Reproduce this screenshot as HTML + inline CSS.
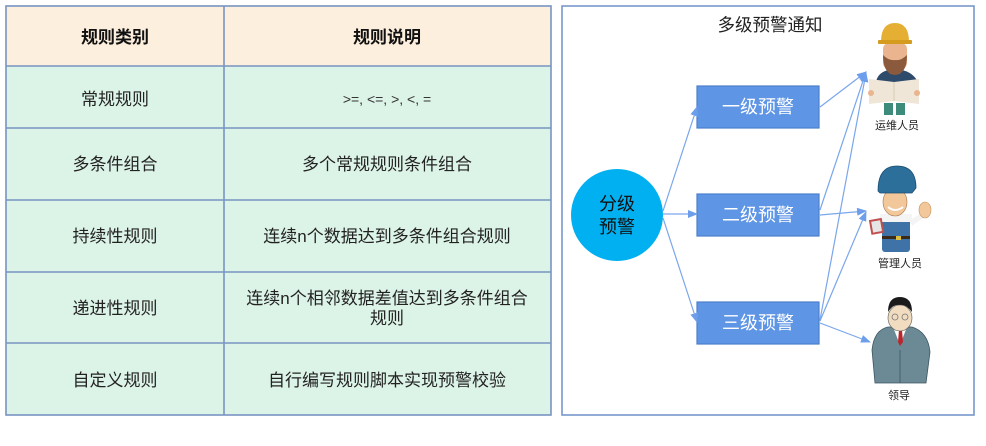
<!DOCTYPE html>
<html><head><meta charset="utf-8"><style>
html,body{margin:0;padding:0;background:#fff;}
svg{display:block;}
text{font-family:"Liberation Sans","Noto Sans CJK SC",sans-serif;}
</style></head><body>
<svg width="986" height="446" viewBox="0 0 986 446" xmlns="http://www.w3.org/2000/svg">
<rect x="0" y="0" width="986" height="446" fill="#fff"/>
<!-- TABLE -->
<rect x="6" y="6" width="545" height="60" fill="#fdefdd"/>
<rect x="6" y="66" width="545" height="349" fill="#dcf3e7"/>
<g stroke="#7894c2" stroke-width="1.6" fill="none">
<rect x="6" y="6" width="545" height="409"/>
<line x1="224" y1="6" x2="224" y2="415"/>
<line x1="6" y1="66" x2="551" y2="66"/>
<line x1="6" y1="128" x2="551" y2="128"/>
<line x1="6" y1="200" x2="551" y2="200"/>
<line x1="6" y1="272" x2="551" y2="272"/>
<line x1="6" y1="343" x2="551" y2="343"/>
</g>
<g font-size="17" text-anchor="middle" fill="#222">
<text x="115" y="43" font-weight="bold" fill="#111">规则类别</text>
<text x="387" y="43" font-weight="bold" fill="#111">规则说明</text>
<text x="115" y="105">常规规则</text>
<text x="387" y="104" font-size="14" fill="#333">&gt;=, &lt;=, &gt;, &lt;, =</text>
<text x="115" y="170">多条件组合</text>
<text x="387" y="170">多个常规规则条件组合</text>
<text x="115" y="242">持续性规则</text>
<text x="387" y="242">连续n个数据达到多条件组合规则</text>
<text x="115" y="314">递进性规则</text>
<text x="387" y="304">连续n个相邻数据差值达到多条件组合</text>
<text x="387" y="324">规则</text>
<text x="115" y="386">自定义规则</text>
<text x="387" y="386">自行编写规则脚本实现预警校验</text>
</g>
<!-- RIGHT PANEL -->
<rect x="562" y="6" width="412" height="409" fill="#fff" stroke="#6f90c8" stroke-width="1.5"/>
<text x="770" y="31" font-size="17.5" text-anchor="middle" fill="#222">多级预警通知</text>
<!-- circle -->
<circle cx="617" cy="215" r="46" fill="#00b0f0"/>
<text x="617" y="210" font-size="18" text-anchor="middle" fill="#111">分级</text>
<text x="617" y="233" font-size="18" text-anchor="middle" fill="#111">预警</text>
<!-- boxes -->
<g fill="#5e95e4" stroke="#4c7fcc" stroke-width="1.2">
<rect x="697" y="86" width="122" height="42"/>
<rect x="697" y="194" width="122" height="42"/>
<rect x="697" y="302" width="122" height="42"/>
</g>
<g font-size="18" text-anchor="middle" fill="#fff">
<text x="758" y="113">一级预警</text>
<text x="758" y="221">二级预警</text>
<text x="758" y="329">三级预警</text>
</g>
<!-- arrows -->
<defs>
<marker id="ah" markerWidth="10" markerHeight="8" refX="9" refY="4" orient="auto" markerUnits="userSpaceOnUse">
<path d="M0,0 L10,4 L0,8 Z" fill="#6d9eeb"/>
</marker>
</defs>
<g stroke="#7aa6ec" stroke-width="1.2" fill="none" marker-end="url(#ah)">
<line x1="663" y1="211" x2="697" y2="107"/>
<line x1="663" y1="214" x2="697" y2="214"/>
<line x1="663" y1="218" x2="697" y2="322"/>
<line x1="820" y1="107" x2="866" y2="72"/>
<line x1="820" y1="210" x2="866" y2="72"/>
<line x1="820" y1="215" x2="866" y2="211"/>
<line x1="820" y1="320" x2="866" y2="73"/>
<line x1="820" y1="321" x2="866" y2="212"/>
<line x1="820" y1="323" x2="870" y2="342"/>
</g>
<!-- person 1 -->
<g>
<rect x="884" y="103" width="9" height="12" fill="#3d8b7a"/>
<rect x="896" y="103" width="9" height="12" fill="#3d8b7a"/>
<path d="M876,82 Q878,70 895,69 Q912,70 918,82 Z" fill="#2f4b6b"/>
<rect x="890" y="69" width="10" height="5" fill="#e86a4a"/>
<rect x="883" y="43" width="24" height="26" rx="6" fill="#e9b48e"/>
<path d="M883,55 Q883,74 895,75 Q907,74 907,55 Q901,61 895,60 Q889,61 883,55 Z" fill="#8b5a3c"/>
<path d="M881,42 Q881,23 895,23 Q909,23 909,42 Z" fill="#e5af33"/>
<rect x="878" y="40" width="34" height="4" rx="1" fill="#d49b1f"/>
<path d="M869,79 L894,82 L919,79 L919,104 L894,101 L869,104 Z" fill="#efe6d8"/>
<line x1="894" y1="82" x2="894" y2="101" stroke="#d8cab4" stroke-width="1"/>
<circle cx="871" cy="93" r="3" fill="#e9b48e"/>
<circle cx="917" cy="93" r="3" fill="#e9b48e"/>
</g>
<text x="897" y="129" font-size="11" text-anchor="middle" fill="#222">运维人员</text>
<!-- person 2 -->
<g>
<rect x="882" y="214" width="28" height="38" rx="3" fill="#3f72a6"/>
<rect x="880" y="214" width="32" height="8" fill="#f4f4f4"/>
<rect x="882" y="236" width="28" height="3" fill="#3a2a1a"/>
<rect x="896" y="236" width="5" height="4" fill="#e0c040"/>
<path d="M910,220 L920,214 L923,218 L912,226 Z" fill="#f4f4f4"/>
<ellipse cx="925" cy="210" rx="6" ry="8" fill="#f2c79a" stroke="#c8905a" stroke-width="0.6"/>
<rect x="870" y="219" width="13" height="15" fill="#c0504d" transform="rotate(-10 876 226)"/>
<rect x="872" y="221" width="9" height="11" fill="#e6e6e6" transform="rotate(-10 876 226)"/>
<ellipse cx="895" cy="202" rx="12" ry="14" fill="#f2c79a" stroke="#a8744a" stroke-width="0.6"/>
<path d="M888,207 Q895,213 903,207" stroke="#fff" stroke-width="2" fill="none"/>
<path d="M878,191 Q878,166 897,166 Q916,166 916,188 L912,193 L880,193 Z" fill="#2c6f9b" stroke="#1d4f72" stroke-width="0.8"/>
</g>
<text x="900" y="267" font-size="11" text-anchor="middle" fill="#222">管理人员</text>
<!-- person 3 -->
<g>
<path d="M875,383 L872,350 Q874,330 888,327 L912,327 Q928,332 930,352 L926,383 Z" fill="#6b8a96" stroke="#3e5560" stroke-width="0.8"/>
<path d="M893,327 L900,345 L907,327 Z" fill="#fff"/>
<path d="M899,330 L902,330 L903,342 L900,346 L898,342 Z" fill="#b8272d"/>
<line x1="900" y1="350" x2="900" y2="383" stroke="#3e5560" stroke-width="0.8"/>
<ellipse cx="900" cy="318" rx="12" ry="13" fill="#f1dcc0" stroke="#555" stroke-width="0.6"/>
<path d="M888,312 Q888,297 900,297 Q912,297 912,312 Q906,304 900,305 Q893,304 888,312 Z" fill="#1a1a1a"/>
<circle cx="895" cy="317" r="3" fill="none" stroke="#777" stroke-width="0.8"/>
<circle cx="905" cy="317" r="3" fill="none" stroke="#777" stroke-width="0.8"/>
</g>
<text x="899" y="399" font-size="11" text-anchor="middle" fill="#222">领导</text>
</svg>
</body></html>
